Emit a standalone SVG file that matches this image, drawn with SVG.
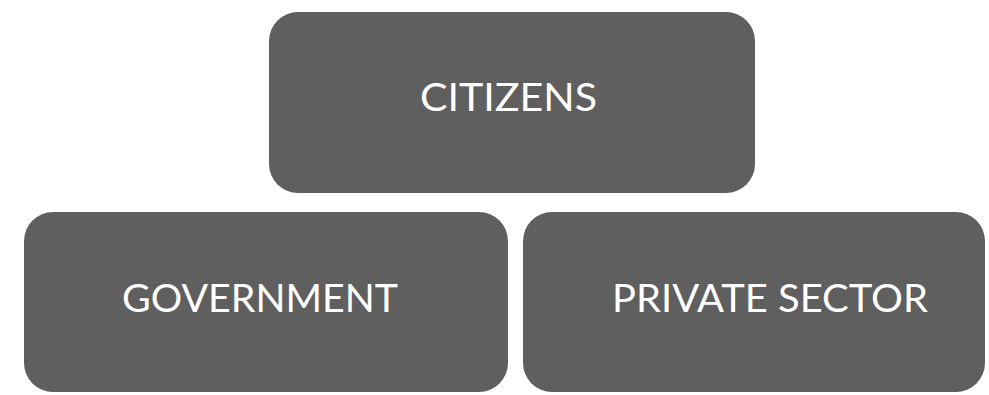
<svg xmlns="http://www.w3.org/2000/svg" width="989" height="395" viewBox="0 0 989 395">
<style>
.box{fill:#5f5f5f;}
.lbl{fill:#ffffff;font-family:Lato,"Open Sans","Liberation Sans",sans-serif;font-size:38px;text-anchor:middle;}
</style>
<rect width="989" height="395" fill="#ffffff"/>
<g id="citizens">
<rect class="box" x="269" y="12" width="486" height="181" rx="29" ry="29"/>
<text class="lbl" x="508.5" y="111" textLength="177" lengthAdjust="spacingAndGlyphs">CITIZENS</text>
</g>
<g id="government">
<rect class="box" x="24" y="212" width="484" height="180" rx="29" ry="29"/>
<text class="lbl" x="260" y="312" textLength="276" lengthAdjust="spacingAndGlyphs">GOVERNMENT</text>
</g>
<g id="private-sector">
<rect class="box" x="523" y="212" width="462" height="180" rx="29" ry="29"/>
<text class="lbl" x="770" y="312" textLength="316" lengthAdjust="spacingAndGlyphs">PRIVATE SECTOR</text>
</g>
<g id="connectors"></g>
</svg>
